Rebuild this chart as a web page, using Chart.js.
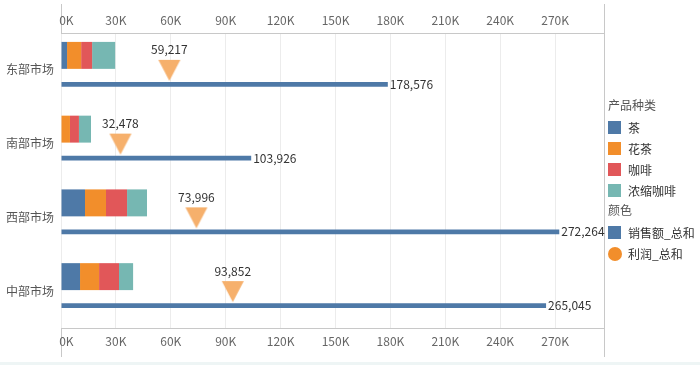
<!DOCTYPE html>
<html>
<head>
<meta charset="utf-8">
<script src="https://cdn.jsdelivr.net/npm/chart.js@4/dist/chart.umd.min.js"></script>
<style>
    body { margin: 0; background: #fff; font-family: "Noto Sans CJK SC", "Noto Sans", sans-serif; }
    .wrap { position: relative; width: 700px; height: 365px; }
    .legend { position: absolute; left: 608px; top: 96px; font-size: 12px; color: #333; }
    .legend .title { color: #555; height: 21px; line-height: 18px; }
    .legend .item { height: 21px; line-height: 18px; display: flex; align-items: center; }
    .legend .sw { width: 13px; height: 13px; margin-right: 7px; display: inline-block; }
    .legend .dot { border-radius: 50%; width: 14px; height: 14px; margin-right: 6px; }
    .foot { position: absolute; left: 0; top: 362px; width: 700px; height: 3px; background: #eef5f5; }
</style>
</head>
<body>
<div class="wrap">
    <canvas id="chart" width="700" height="365"></canvas>
    <div class="legend" id="legend"></div>
    <div class="foot"></div>
</div>
<script>
const markets = ['东部市场', '南部市场', '西部市场', '中部市场'];
const products = ['茶', '花茶', '咖啡', '浓缩咖啡'];
const productColors = ['#4e79a7', '#f28e2b', '#e15759', '#76b7b2'];

// 各产品利润（堆叠条）
const teaProfit = [3300, 0, 13100, 10400];
const herbalProfit = [7700, 4900, 11500, 10400];
const coffeeProfit = [6000, 4900, 11500, 10900];
const espressoProfit = [12600, 6600, 10900, 7700];

const salesTotal = [178576, 103926, 272264, 265045];
const profitTotal = [59217, 32478, 73996, 93852];

const tickValues = [0, 30000, 60000, 90000, 120000, 150000, 180000, 210000, 240000, 270000];
const tickLabels = ['0K', '30K', '60K', '90K', '120K', '150K', '180K', '210K', '240K', '270K'];
const axisMax = 296700;

const fmt = v => v.toLocaleString('en-US');

// 倒三角标记
function makeTriangle() {
    const c = document.createElement('canvas');
    c.width = 24; c.height = 30;
    const g = c.getContext('2d');
    g.fillStyle = '#f6b06c';
    g.beginPath();
    g.moveTo(1, 5);
    g.lineTo(23, 5);
    g.lineTo(12, 26);
    g.closePath();
    g.fill();
    return c;
}
const tri = makeTriangle();

const profitSets = [teaProfit, herbalProfit, coffeeProfit, espressoProfit].map((d, i) => ({
    type: 'bar',
    label: products[i],
    data: d,
    backgroundColor: productColors[i],
    stack: 'profit',
    barPercentage: 0.93,
    categoryPercentage: 0.786,
    xAxisID: 'x',
    order: 2
}));

const labelPlugin = {
    id: 'labels',
    afterDatasetsDraw(chart) {
        const ctx = chart.ctx;
        ctx.save();
        ctx.font = '12px "Noto Sans CJK SC", "Noto Sans", sans-serif';
        ctx.fillStyle = '#333';
        const sales = chart.getDatasetMeta(4);
        sales.data.forEach((el, i) => {
            ctx.textAlign = 'left';
            ctx.textBaseline = 'middle';
            ctx.fillText(fmt(salesTotal[i]), el.x + 2, el.y);
        });
        const prof = chart.getDatasetMeta(5);
        prof.data.forEach((el, i) => {
            ctx.textAlign = 'center';
            ctx.textBaseline = 'middle';
            ctx.fillText(fmt(profitTotal[i]), el.x, el.y - 20);
        });
        ctx.restore();
    },
    beforeDraw(chart) {
        const ctx = chart.ctx;
        const a = chart.chartArea;
        ctx.save();
        ctx.strokeStyle = '#c8c8c8';
        ctx.lineWidth = 1;
        ctx.beginPath();
        ctx.moveTo(a.left + 0.5, 4);
        ctx.lineTo(a.left + 0.5, 357);
        ctx.moveTo(a.right + 0.5, 4);
        ctx.lineTo(a.right + 0.5, 357);
        ctx.stroke();
        ctx.restore();
    }
};

const setTicks = s => { s.ticks = tickValues.map(v => ({ value: v })); };
const tickText = (v, i) => i === 0 ? '    ' + tickLabels[0] : tickLabels[i];
const tickFont = { size: 12, family: '"Noto Sans CJK SC", "Noto Sans", sans-serif' };

new Chart(document.getElementById('chart'), {
    data: {
        labels: markets,
        datasets: [
            ...profitSets,
            {
                type: 'bar',
                label: '销售额_总和',
                data: salesTotal,
                backgroundColor: '#4e79a7',
                stack: 'sales',
                barPercentage: 0.17,
                categoryPercentage: 0.786,
                xAxisID: 'x',
                order: 2
            },
            {
                type: 'line',
                label: '利润_总和',
                data: profitTotal,
                showLine: false,
                pointStyle: tri,
                xAxisID: 'x',
                order: 1
            }
        ]
    },
    options: {
        indexAxis: 'y',
        responsive: false,
        animation: false,
        layout: { padding: { left: 0, right: 96, top: 0, bottom: 0 } },
        plugins: { legend: { display: false }, tooltip: { enabled: false } },
        scales: {
            x: {
                type: 'linear',
                position: 'top',
                stacked: true,
                min: 0,
                max: axisMax,
                afterBuildTicks: setTicks,
                afterFit: s => { s.height = 33; },
                border: { display: true, color: '#c8c8c8' },
                grid: { color: '#ececec', drawTicks: false },
                ticks: { padding: 5, color: '#666', font: tickFont, maxRotation: 0, autoSkip: false, callback: tickText }
            },
            x2: {
                type: 'linear',
                position: 'bottom',
                min: 0,
                max: axisMax,
                afterBuildTicks: setTicks,
                afterFit: s => { s.height = 37; },
                border: { display: true, color: '#c8c8c8' },
                grid: { display: false, drawTicks: false },
                ticks: { padding: 6, color: '#666', font: tickFont, maxRotation: 0, autoSkip: false, callback: tickText }
            },
            y: {
                stacked: true,
                afterFit: s => { s.width = 61; },
                border: { display: false },
                grid: { display: false, drawTicks: false },
                ticks: {
                    padding: 7,
                    color: '#555',
                    font: { size: 12, family: '"Noto Sans CJK SC", sans-serif' }
                }
            }
        }
    },
    plugins: [labelPlugin]
});

// 图例
const legend = document.getElementById('legend');
let html = '<div class="title">产品种类</div>';
products.forEach((p, i) => {
    html += '<div class="item"><span class="sw" style="background:' + productColors[i] + '"></span>' + p + '</div>';
});
html += '<div class="title">颜色</div>';
html += '<div class="item"><span class="sw" style="background:#4e79a7"></span>销售额_总和</div>';
html += '<div class="item"><span class="sw dot" style="background:#f28e2b"></span>利润_总和</div>';
legend.innerHTML = html;
</script>
</body>
</html>
